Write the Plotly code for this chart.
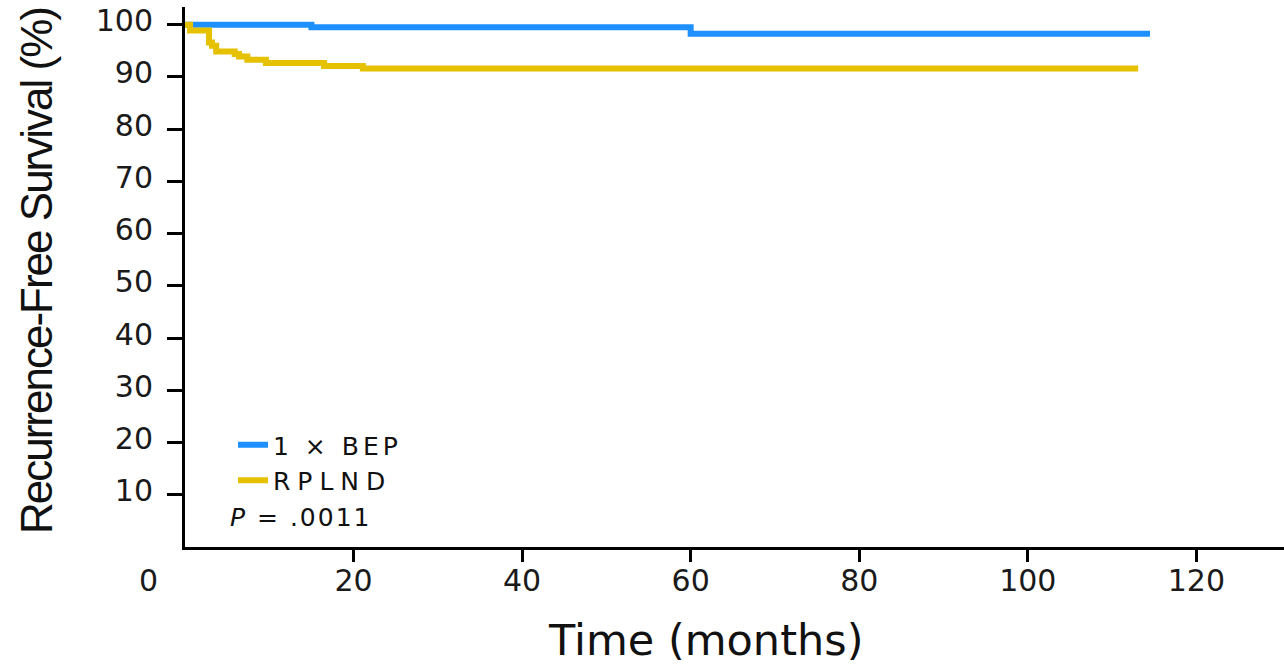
import plotly.graph_objects as go

# Kaplan-Meier step data (months, recurrence-free survival %)
bep_months = [0, 15.0, 60.0, 114.5]
bep_rfs = [100, 99.5, 98.3, 98.3]

rplnd_months = [0, 0.6, 2.85, 3.2, 3.7, 5.9, 6.4, 7.4, 9.6, 16.5, 21.1, 113.1]
rplnd_rfs = [100, 98.9, 96.6, 96.0, 94.9, 94.4, 93.9, 93.3, 92.7, 92.1, 91.6, 91.6]

x_ticks = [20, 40, 60, 80, 100, 120]
y_ticks = [10, 20, 30, 40, 50, 60, 70, 80, 90, 100]

BLUE = "#1E90FF"
GOLD = "#E5C100"
TICK_FONT = dict(family="DejaVu Sans", size=30, color="#1a1a1a")

fig = go.Figure()
fig.add_trace(go.Scatter(
    x=bep_months, y=bep_rfs, mode="lines", line_shape="hv",
    line=dict(color=BLUE, width=6), cliponaxis=False,
    name='<span style="letter-spacing:4px">1 × BEP</span>'))
fig.add_trace(go.Scatter(
    x=rplnd_months, y=rplnd_rfs, mode="lines", line_shape="hv",
    line=dict(color=GOLD, width=6), cliponaxis=False,
    name='<span style="letter-spacing:7px">RPLND</span>'))

fig.update_layout(
    width=1284, height=666,
    margin=dict(l=185, r=0, t=7, b=119),
    paper_bgcolor="white", plot_bgcolor="white",
    showlegend=True,
    legend=dict(x=(233 - 185) / 1099, y=(547 - 422) / 540, xanchor="left", yanchor="top",
                bgcolor="rgba(0,0,0,0)", borderwidth=0, tracegroupgap=0,
                font=dict(family="DejaVu Sans", size=25, color="#111")),
    xaxis=dict(range=[0, 130.4], tickvals=x_ticks, ticktext=[str(v) for v in x_ticks],
               showgrid=False, zeroline=False, showline=True, linecolor="black",
               linewidth=3, ticks="outside", ticklen=12, tickwidth=3, tickcolor="black",
               tickfont=TICK_FONT, ticklabelstandoff=-7),
    yaxis=dict(range=[0, 103.4], tickvals=y_ticks, ticktext=[str(v) for v in y_ticks],
               showgrid=False, zeroline=False, showline=True, linecolor="black",
               linewidth=3, ticks="outside", ticklen=15, tickwidth=3, tickcolor="black",
               tickfont=TICK_FONT, ticklabelstandoff=8, ticklabelshift=-4),
    annotations=[
        dict(text="0", xref="paper", yref="paper", x=(148 - 185) / 1099, y=(547 - 580) / 540,
             xanchor="center", yanchor="middle", showarrow=False, font=TICK_FONT),
        dict(text="Time (months)", xref="paper", yref="paper", x=(705 - 185) / 1099,
             y=(547 - 640) / 540, xanchor="center", yanchor="middle", showarrow=False,
             font=dict(family="DejaVu Sans", size=43, color="#111")),
        dict(text='<span style="letter-spacing:-2px">Recurrence-Free Survival (%)</span>',
             xref="paper", yref="paper",
             x=(36 - 185) / 1099, y=(547 - 271) / 540, xanchor="center", yanchor="middle",
             textangle=-90, showarrow=False,
             font=dict(family="Liberation Sans", size=44, color="#111")),
        dict(text='<span style="letter-spacing:2px"><i>P</i> = .0011</span>', xref="paper", yref="paper",
             x=(228 - 185) / 1099, y=(547 - 517) / 540, xanchor="left", yanchor="middle",
             showarrow=False, font=dict(family="DejaVu Sans", size=25, color="#111")),
    ],
)

fig.write_html("out.html", config={"displayModeBar": False},
               post_script="document.body.style.margin='0';")
